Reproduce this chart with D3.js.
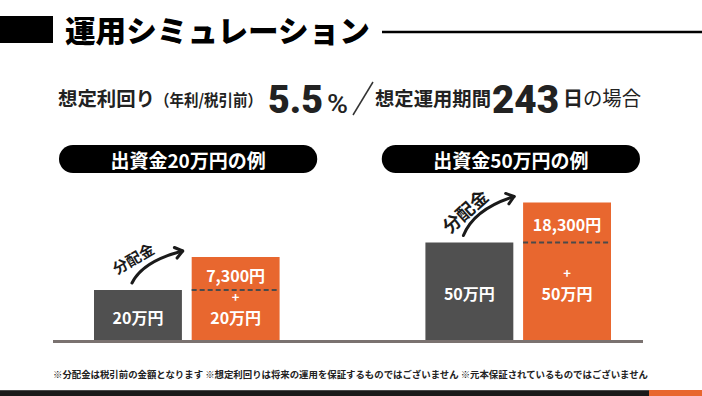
<!DOCTYPE html>
<meta charset="utf-8">
<script src="https://cdn.jsdelivr.net/npm/d3@7"></script>
<style>body{margin:0;background:#fff}</style>
<div id="chart"></div>
<script>
// ---- data ----
var groups = ["出資金20万円の例", "出資金50万円の例"]
var principal = [200000, 500000]
var dividend = [7300, 18300]
var principalLabels = ["20万円", "50万円"]
var dividendLabels = ["7,300円", "18,300円"]
var barKeys = ["before", "after"]
var rateText = "5.5"
var daysText = "243"
var notes = "※分配金は税引前の金額となります ※想定利回りは将来の運用を保証するものではございません ※元本保証されているものではございません"

var W = 702, H = 396
var jp = "'Noto Sans CJK JP', 'Noto Sans', sans-serif"
var num = "Roboto, 'Liberation Sans', sans-serif"
var orange = "#e8672f", gray = "#505050"

var svg = d3.select("#chart").append("svg")
    .attr("width", W).attr("height", H)

// ---- header ----
svg.append("rect").attr("x", 0).attr("y", 16).attr("width", 53).attr("height", 27).attr("fill", "#000")
svg.append("text").attr("x", 65).attr("y", 42).text("運用シミュレーション")
    .style("font-family", jp).style("font-size", "30px").style("font-weight", 900)
    .attr("textLength", 305).attr("lengthAdjust", "spacingAndGlyphs")
svg.append("line").attr("x1", 382).attr("x2", W).attr("y1", 32).attr("y2", 32)
    .attr("stroke", "#000").attr("stroke-width", 2.5)

// ---- condition row ----
function txt(x, y, s, size, weight, family, len) {
    var t = svg.append("text").attr("x", x).attr("y", y).text(s)
        .style("font-family", family).style("font-size", size + "px").style("font-weight", weight)
        .attr("fill", "#222")
    if (len) t.attr("textLength", len).attr("lengthAdjust", "spacingAndGlyphs")
    return t
}
txt(58, 106, "想定利回り", 19.5, 700, jp, 97)
txt(155, 106, "（年利/税引前）", 16, 700, jp, 107)
txt(268, 113, rateText, 39, 900, num, 55)
txt(327, 113, "%", 26, 500, num, 21)
svg.append("line").attr("x1", 353).attr("y1", 115).attr("x2", 373).attr("y2", 82)
    .attr("stroke", "#333").attr("stroke-width", 1.5)
txt(375, 106, "想定運用期間", 19.5, 700, jp, 116)
txt(492, 113, daysText, 39, 900, num, 67)
txt(563, 106, "日", 20, 700, jp)
txt(583, 106, "の場合", 20, 400, jp, 58)

// ---- scales ----
var baseY = 340
var x = d3.scaleBand().domain(groups).range([94, 611]).paddingInner(0.44)
var xIn = d3.scaleBand().domain(barKeys).range([0, x.bandwidth()]).paddingInner(0.1)
var pill = d3.scaleBand().domain(groups).range([59, 640]).paddingInner(0.2)
// bar heights are illustrative, not to scale
var hP = d3.scaleLinear().domain([0, 200000, 500000]).range([0, 50, 97.5])
var hD = d3.scaleLinear().domain([0, 7300, 18300]).range([0, 33, 40])

// pills
groups.forEach(function(g) {
    svg.append("rect").attr("x", pill(g)).attr("y", 145).attr("width", pill.bandwidth()).attr("height", 28)
        .attr("rx", 14).attr("fill", "#000")
    svg.append("text").attr("x", pill(g) + pill.bandwidth() / 2).attr("y", 159.5).text(g)
        .attr("text-anchor", "middle").attr("dominant-baseline", "central").attr("fill", "#fff")
        .style("font-family", jp).style("font-size", "19px").style("font-weight", 700)
})

var tagSize = [15, 18], tagAngle = [-30, -42]

groups.forEach(function(g, i) {
    var bw = xIn.bandwidth()
    var gx = x(g) + xIn("before"), ox = x(g) + xIn("after")
    var p = hP(principal[i]), d = hD(dividend[i])
    var gTop = baseY - p, oTop = baseY - p - d

    svg.append("rect").attr("x", gx).attr("y", gTop).attr("width", bw).attr("height", p).attr("fill", gray)
    svg.append("rect").attr("x", ox).attr("y", oTop).attr("width", bw).attr("height", p + d).attr("fill", orange)
    svg.append("line").attr("x1", ox).attr("x2", ox + bw).attr("y1", gTop).attr("y2", gTop)
        .attr("stroke", "#4a4a4a").attr("stroke-width", 2).attr("stroke-dasharray", "5,3")

    var lab = function(cx, cy, s, size) {
        svg.append("text").attr("x", cx).attr("y", cy).text(s)
            .attr("text-anchor", "middle").attr("dominant-baseline", "central").attr("fill", "#fff")
            .style("font-family", jp).style("font-size", (size || 16) + "px").style("font-weight", 700)
    }
    var ly = baseY - p / 2 + 2
    lab(gx + bw / 2, ly, principalLabels[i])
    lab(ox + bw / 2, ly, principalLabels[i])
    lab(ox + bw / 2, ly - 21, "+", 13)
    lab(ox + bw / 2, oTop + d / 2 + 1, dividendLabels[i])

    // arrow
    var S = [gx + 38, gTop - 7], E = [ox - 9, oTop - 6]
    var dx = E[0] - S[0], dy = E[1] - S[1]
    var C = [S[0] + 0.21 * dx, S[1] + 0.68 * dy]
    var path = d3.path()
    path.moveTo(S[0], S[1]); path.quadraticCurveTo(C[0], C[1], E[0], E[1])
    svg.append("path").attr("d", path.toString()).attr("fill", "none")
        .attr("stroke", "#1a1a1a").attr("stroke-width", 3).attr("stroke-linecap", "round")
    var ang = Math.atan2(E[1] - C[1], E[0] - C[0])
    var a1 = ang + Math.PI - 0.65, a2 = ang + Math.PI + 0.65
    svg.append("path")
        .attr("d", "M" + (E[0] + 9 * Math.cos(a1)) + "," + (E[1] + 9 * Math.sin(a1)) +
            "L" + E[0] + "," + E[1] + "L" + (E[0] + 9 * Math.cos(a2)) + "," + (E[1] + 9 * Math.sin(a2)))
        .attr("fill", "none").attr("stroke", "#1a1a1a").attr("stroke-width", 3)
        .attr("stroke-linecap", "round").attr("stroke-linejoin", "round")
    svg.append("text").attr("transform", "translate(" + (S[0] + 1) + "," + (S[1] - 25) + ") rotate(" + tagAngle[i] + ")")
        .text("分配金").attr("text-anchor", "middle").attr("dominant-baseline", "central").attr("fill", "#1a1a1a")
        .style("font-family", jp).style("font-size", tagSize[i] + "px").style("font-weight", 700)
})

// baseline
svg.append("rect").attr("x", 53).attr("y", baseY).attr("width", 590).attr("height", 3).attr("fill", "#7a7270")

// footnote
svg.append("text").attr("x", 53).attr("y", 374).text(notes)
    .attr("dominant-baseline", "central").attr("fill", "#222")
    .attr("textLength", 595).attr("lengthAdjust", "spacingAndGlyphs")
    .style("font-family", jp).style("font-size", "9.5px").style("font-weight", 700)

// bottom band
svg.append("rect").attr("x", 0).attr("y", 390).attr("width", W).attr("height", 6).attr("fill", "#1a1a1a")
svg.append("rect").attr("x", 0).attr("y", 390).attr("width", W).attr("height", 1).attr("fill", "#4a4a4a")
svg.append("rect").attr("x", 649).attr("y", 390).attr("width", 53).attr("height", 6).attr("fill", orange)
</script>
